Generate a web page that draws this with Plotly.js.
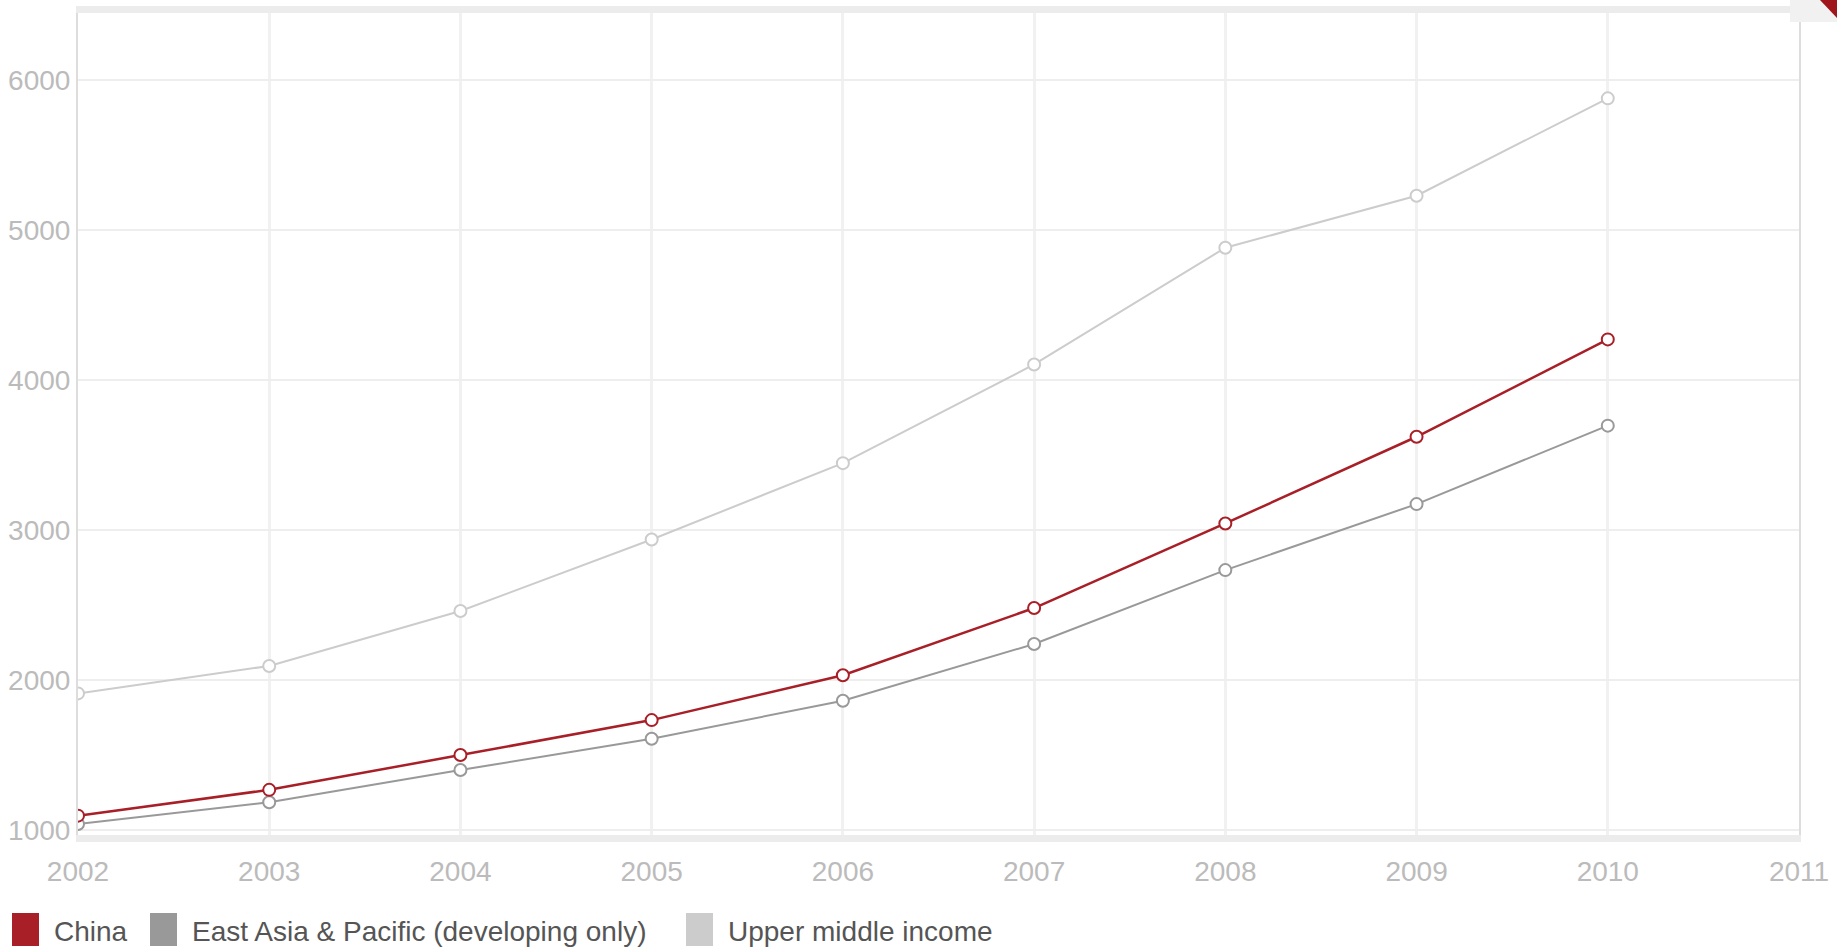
<!DOCTYPE html>
<html>
<head>
<meta charset="utf-8">
<script src="https://cdn.plot.ly/plotly-3.0.1.min.js"></script>
<style>
  html, body { margin: 0; padding: 0; background: #ffffff; }
  #chart { width: 1837px; height: 949px; }
</style>
</head>
<body>
<div id="chart"></div>
<script>
// ---- data ----
const years = [2002, 2003, 2004, 2005, 2006, 2007, 2008, 2009, 2010];
const china = [1096, 1268, 1500, 1733, 2032, 2480, 3044, 3622, 4271];
const eastAsia = [1040, 1185, 1400, 1609, 1862, 2240, 2733, 3173, 3696];
const upperMiddle = [1911, 2094, 2460, 2937, 3446, 4104, 4882, 5229, 5878];
const seriesNames = ["China", "East Asia & Pacific (developing only)", "Upper middle income"];
const yTicks = [1000, 2000, 3000, 4000, 5000, 6000];
const xTicks = [2002, 2003, 2004, 2005, 2006, 2007, 2008, 2009, 2010, 2011];

// ---- styles ----
const colors = ["#a81f27", "#999999", "#cccccc"];
const lineWidths = [2.5, 2, 2];
const seriesValues = [china, eastAsia, upperMiddle];
const FONT = "Liberation Sans, Arial, sans-serif";

const W = 1837, H = 949;
const M = { l: 78, r: 38, t: 13, b: 114 };
const plotW = W - M.l - M.r, plotH = H - M.t - M.b;
function pxX(px) { return (px - M.l) / plotW; }
function pxY(py) { return (H - M.b - py) / plotH; }

const traces = [];
// draw order: upper middle (back), east asia, china (front)
[2, 1, 0].forEach(function (i) {
  traces.push({
    x: years,
    y: seriesValues[i],
    type: "scatter",
    mode: "lines+markers",
    name: seriesNames[i],
    showlegend: false,
    line: { color: colors[i], width: lineWidths[i] },
    marker: { symbol: "circle", size: 12, color: "#ffffff", line: { color: colors[i], width: 2 } },
    hoverinfo: "x+y+name"
  });
});

// manual legend: swatch boxes + text labels
const legendSwatchX = [12, 150, 686];
const legendTextX = [52, 190, 726];
const shapes = [];
const annotations = [];
[0, 1, 2].forEach(function (i) {
  shapes.push({
    type: "rect", xref: "paper", yref: "paper",
    x0: pxX(legendSwatchX[i]), x1: pxX(legendSwatchX[i] + 27),
    y0: pxY(946), y1: pxY(913),
    fillcolor: colors[i], line: { width: 0 }, layer: "above"
  });
  annotations.push({
    xref: "paper", yref: "paper",
    x: pxX(legendTextX[i]), y: pxY(931),
    xanchor: "left", yanchor: "middle",
    text: seriesNames[i], showarrow: false,
    font: { family: FONT, size: 28, color: "#555555" }
  });
});
// small page-curl decoration, top right
shapes.push({
  type: "rect", xref: "paper", yref: "paper",
  x0: pxX(1790), x1: pxX(1837), y0: pxY(22), y1: pxY(0),
  fillcolor: "#f1f1f1", line: { width: 0 }, layer: "above"
});
shapes.push({
  type: "path", xref: "paper", yref: "paper",
  path: "M " + pxX(1820) + " " + pxY(0) + " L " + pxX(1837) + " " + pxY(0) +
        " L " + pxX(1837) + " " + pxY(18) + " Z",
  fillcolor: "#a0141c", line: { width: 0 }, layer: "above"
});

const layout = {
  width: W,
  height: H,
  paper_bgcolor: "#ffffff",
  plot_bgcolor: "#ffffff",
  margin: { l: M.l, r: M.r, t: M.t, b: M.b, pad: 0 },
  showlegend: false,
  font: { family: FONT, color: "#bbbbbb", size: 28 },
  xaxis: {
    range: [2002, 2011],
    tickvals: xTicks,
    ticktext: xTicks.map(String),
    showgrid: true,
    gridcolor: "#f1f1f1",
    gridwidth: 3,
    zeroline: false,
    showline: true,
    linecolor: "#ececec",
    linewidth: 7,
    mirror: true,
    ticks: "outside",
    ticklen: 5,
    tickcolor: "rgba(0,0,0,0)",
    tickfont: { family: FONT, size: 28, color: "#bbbbbb" },
    automargin: false,
    fixedrange: true
  },
  yaxis: {
    range: [967, 6447],
    tickvals: yTicks,
    ticktext: yTicks.map(String),
    showgrid: true,
    gridcolor: "#eeeeee",
    gridwidth: 2,
    zeroline: false,
    showline: true,
    linecolor: "#dddddd",
    linewidth: 2,
    mirror: true,
    ticks: "",
    tickfont: { family: FONT, size: 28, color: "#bbbbbb" },
    automargin: false,
    fixedrange: true
  },
  shapes: shapes,
  annotations: annotations
};

Plotly.newPlot("chart", traces, layout, { displayModeBar: false, responsive: false });
</script>
</body>
</html>
